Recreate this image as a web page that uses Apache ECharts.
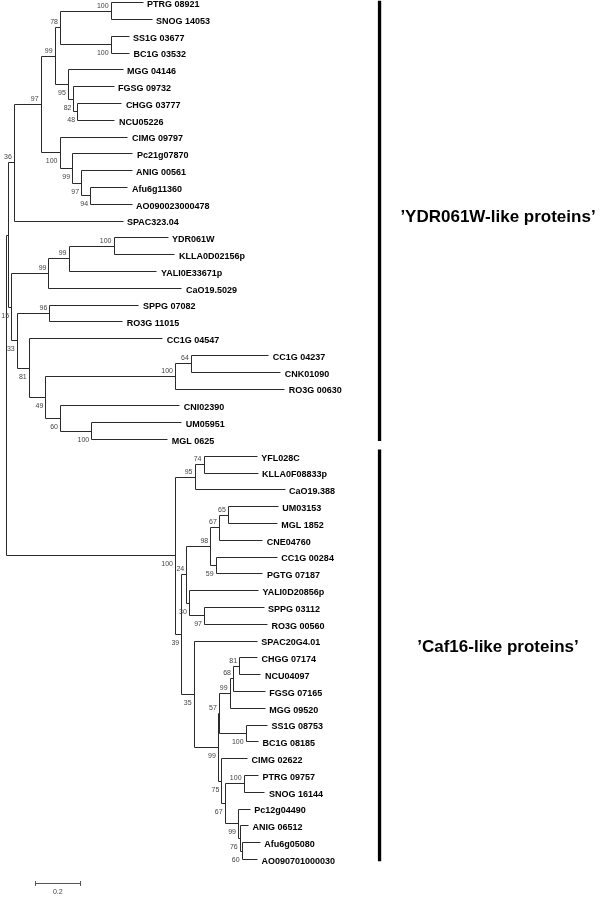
<!DOCTYPE html>
<html><head><meta charset="utf-8">
<script src="https://cdn.jsdelivr.net/npm/echarts@6/dist/echarts.min.js"></script>
<style>html,body{margin:0;padding:0;background:#fff}#c{width:600px;height:898px}</style>
</head><body><div id="c"></div>
<script>
// Newick strings: leaf:branchLength, internal nodes carry bootstrap support
const ydrCladeNewick = "((((((PTRG 08921:0.142,SNOG 14053:0.182)100:0.225,(SS1G 03677:0.080,BC1G 03532:0.082)100:0.225)78:0.024,(MGG 04146:0.243,(FGSG 09732:0.178,(CHGG 03777:0.197,NCU05226:0.166)48:0.016)82:0.025)95:0.059)99:0.062,(CIMG 09797:0.302,(Pc21g07870:0.268,(ANIG 00561:0.224,(Afu6g11360:0.166,AO090023000478:0.184)94:0.040)97:0.040)99:0.056)100:0.084)97:0.119,SPAC323.04:0.483)36:0.024,((((YDR061W:0.240,KLLA0D02156p:0.271)100:0.200,YALI0E33671p:0.391)99:0.089,CaO19.5029:0.591)99:0.166,((SPPG 07082:0.396,RO3G 11015:0.324)96:0.145,(CC1G 04547:0.594,(((CC1G 04237:0.344,CNK01090:0.397)64:0.071,RO3G 00630:0.486)100:0.576,(CNI02390:0.530,(UM05951:0.400,MGL 0625:0.338)100:0.139)60:0.065)49:0.074)81:0.053)33:0.025)15:0.012)";
const caf16CladeNewick = "(((YFL028C:0.237,KLLA0F08833p:0.240)74:0.040,CaO19.388:0.400)95:0.087,(((((UM03153:0.222,MGL 1852:0.218)65:0.040,CNE04760:0.193)67:0.038,(CC1G 00284:0.272,PGTG 07187:0.208)59:0.024)98:0.107,(YALI0D20856p:0.307,(SPPG 03112:0.265,RO3G 00560:0.280)97:0.067)30:0.012)24:0.022,(SPAC20G4.01:0.281,(((((CHGG 07174:0.080,NCU04097:0.095)81:0.027,FGSG 07165:0.141)68:0.015,MGG 09520:0.156)99:0.048,(SS1G 08753:0.095,BC1G 08185:0.055)100:0.119)57:0.004,(CIMG 02622:0.114,((PTRG 09757:0.064,SNOG 16144:0.093)100:0.084,(Pc12g04490:0.052,(ANIG 06512:0.037,(Afu6g05080:0.081,AO090701000030:0.069)60:0.008)76:0.008)99:0.059)67:0.015)75:0.015)99:0.108)35:0.055)39:0.028)100";
const rootBranchLengths = [0.013, 0.753];
const cladeNames = ["\u2019YDR061W-like proteins\u2019", "\u2019Caf16-like proteins\u2019"];
const scaleBarLength = 0.2;
const scaleBarLabel = "0.2";

// ---------- parsing / layout ----------
function parseNewick(str){
  let i = 0;
  function node(){
    const n = {children: [], name: '', len: 0};
    if (str[i] === '('){
      i++;
      n.children.push(node());
      while (str[i] === ','){ i++; n.children.push(node()); }
      if (str[i] !== ')') throw new Error('bad newick at ' + i);
      i++;
    }
    let lab = '';
    while (i < str.length && !':,()'.includes(str[i])) lab += str[i++];
    n.name = lab.trim();
    if (str[i] === ':'){
      i++; let num = '';
      while (i < str.length && !',()'.includes(str[i])) num += str[i++];
      n.len = parseFloat(num);
    }
    return n;
  }
  return node();
}
const ydr = parseNewick(ydrCladeNewick); ydr.len = rootBranchLengths[0];
const caf = parseNewick(caf16CladeNewick); caf.len = rootBranchLengths[1];
const root = {children: [ydr, caf], name: '', len: 0};

const flat = [];
let leafCounter = 0;
function layout(n, depth, parent, isUpper){
  n.x = depth; n.parent = parent; n.isUpper = isUpper;
  flat.push(n);
  if (!n.children.length){ n.y = leafCounter++; }
  else {
    n.children.forEach((c, k) => layout(c, depth + c.len, n, k === 0));
    n.y = (n.children[0].y + n.children[n.children.length - 1].y) / 2;
  }
  n.firstLeaf = n.children.length ? n.children[0].firstLeaf : n.y;
  n.lastLeaf = n.children.length ? n.children[n.children.length - 1].lastLeaf : n.y;
}
layout(root, 0, null, true);

// ---------- styling ----------
const FONT = "'Liberation Sans', Arial, sans-serif";
const LINE = '#2a2a2a';
const PX_PER_UNIT = 225, ROW = 16.8, FIRST_ROW_Y = 2.7, LEFT = 6;
const crisp = v => Math.round(v - 0.5) + 0.5;

function renderNode(params, api){
  const n = flat[params.dataIndex];
  const p = api.coord([n.x, n.y]);
  const g = [];
  const y = crisp(p[1]), x = crisp(p[0]);
  if (n.parent){
    const pp = api.coord([n.parent.x, n.y]);
    g.push({type: 'line', shape: {x1: crisp(pp[0]), y1: y, x2: x, y2: y}, style: {stroke: LINE, lineWidth: 1}});
  }
  if (n.children.length){
    const a = api.coord([n.x, n.children[0].y]);
    const b = api.coord([n.x, n.children[n.children.length - 1].y]);
    g.push({type: 'line', shape: {x1: x, y1: crisp(a[1]), x2: x, y2: crisp(b[1])}, style: {stroke: LINE, lineWidth: 1}});
    if (n.name){
      g.push({type: 'text', x: p[0] - 2.5, y: p[1] + (n.isUpper ? -5.5 : 8.5),
        style: {text: n.name, fill: '#444', font: '7px ' + FONT, align: 'right', verticalAlign: 'middle'}});
    }
  } else {
    g.push({type: 'text', x: p[0] + 4, y: p[1] + 1.8,
      style: {text: n.name, fill: '#000', font: 'bold 9px ' + FONT, align: 'left', verticalAlign: 'middle'}});
  }
  return {type: 'group', children: g};
}

const clades = [ydr, caf];
const cladeBarPad = [[-0.12, 0.09], [-0.4, 0.1]];
const cladeLabelPos = [[498, 217], [498, 647]];
const BAR_X = 379.5;

function renderAnnot(params, api){
  const g = [];
  clades.forEach((c, k) => {
    const a = api.coord([0, c.firstLeaf + cladeBarPad[k][0]]);
    const b = api.coord([0, c.lastLeaf + cladeBarPad[k][1]]);
    g.push({type: 'rect', shape: {x: BAR_X - 1.6, y: a[1], width: 3.3, height: b[1] - a[1]}, style: {fill: '#000'}});
    g.push({type: 'text', x: cladeLabelPos[k][0], y: cladeLabelPos[k][1],
      style: {text: cladeNames[k], fill: '#000', font: 'bold 17px ' + FONT, align: 'center', verticalAlign: 'middle'}});
  });
  // scale bar
  const sbY = 52.45;
  const s0 = api.coord([0.13, sbY]), s1 = api.coord([0.13 + scaleBarLength, sbY]);
  const yy = crisp(s0[1]);
  const sb = {stroke: '#555', lineWidth: 1};
  g.push({type: 'line', shape: {x1: crisp(s0[0]), y1: yy, x2: crisp(s1[0]), y2: yy}, style: sb});
  g.push({type: 'line', shape: {x1: crisp(s0[0]), y1: yy - 2.5, x2: crisp(s0[0]), y2: yy + 2.5}, style: sb});
  g.push({type: 'line', shape: {x1: crisp(s1[0]), y1: yy - 2.5, x2: crisp(s1[0]), y2: yy + 2.5}, style: sb});
  g.push({type: 'text', x: (s0[0] + s1[0]) / 2, y: yy + 9,
    style: {text: scaleBarLabel, fill: '#444', font: '7px ' + FONT, align: 'center', verticalAlign: 'middle'}});
  return {type: 'group', children: g};
}

const chart = echarts.init(document.getElementById('c'), null, {renderer: 'canvas'});
chart.setOption({
  animation: false,
  backgroundColor: '#fff',
  grid: {left: LEFT, right: 0, top: 0, bottom: 0},
  xAxis: {type: 'value', min: 0, max: (600 - LEFT) / PX_PER_UNIT, show: false},
  yAxis: {type: 'value', inverse: true, min: -FIRST_ROW_Y / ROW, max: (898 - FIRST_ROW_Y) / ROW, show: false},
  series: [
    {type: 'custom', clip: false, renderItem: renderNode, data: flat.map(n => [n.x, n.y])},
    {type: 'custom', clip: false, renderItem: renderAnnot, data: [[0, 0]]}
  ]
});
</script></body></html>
